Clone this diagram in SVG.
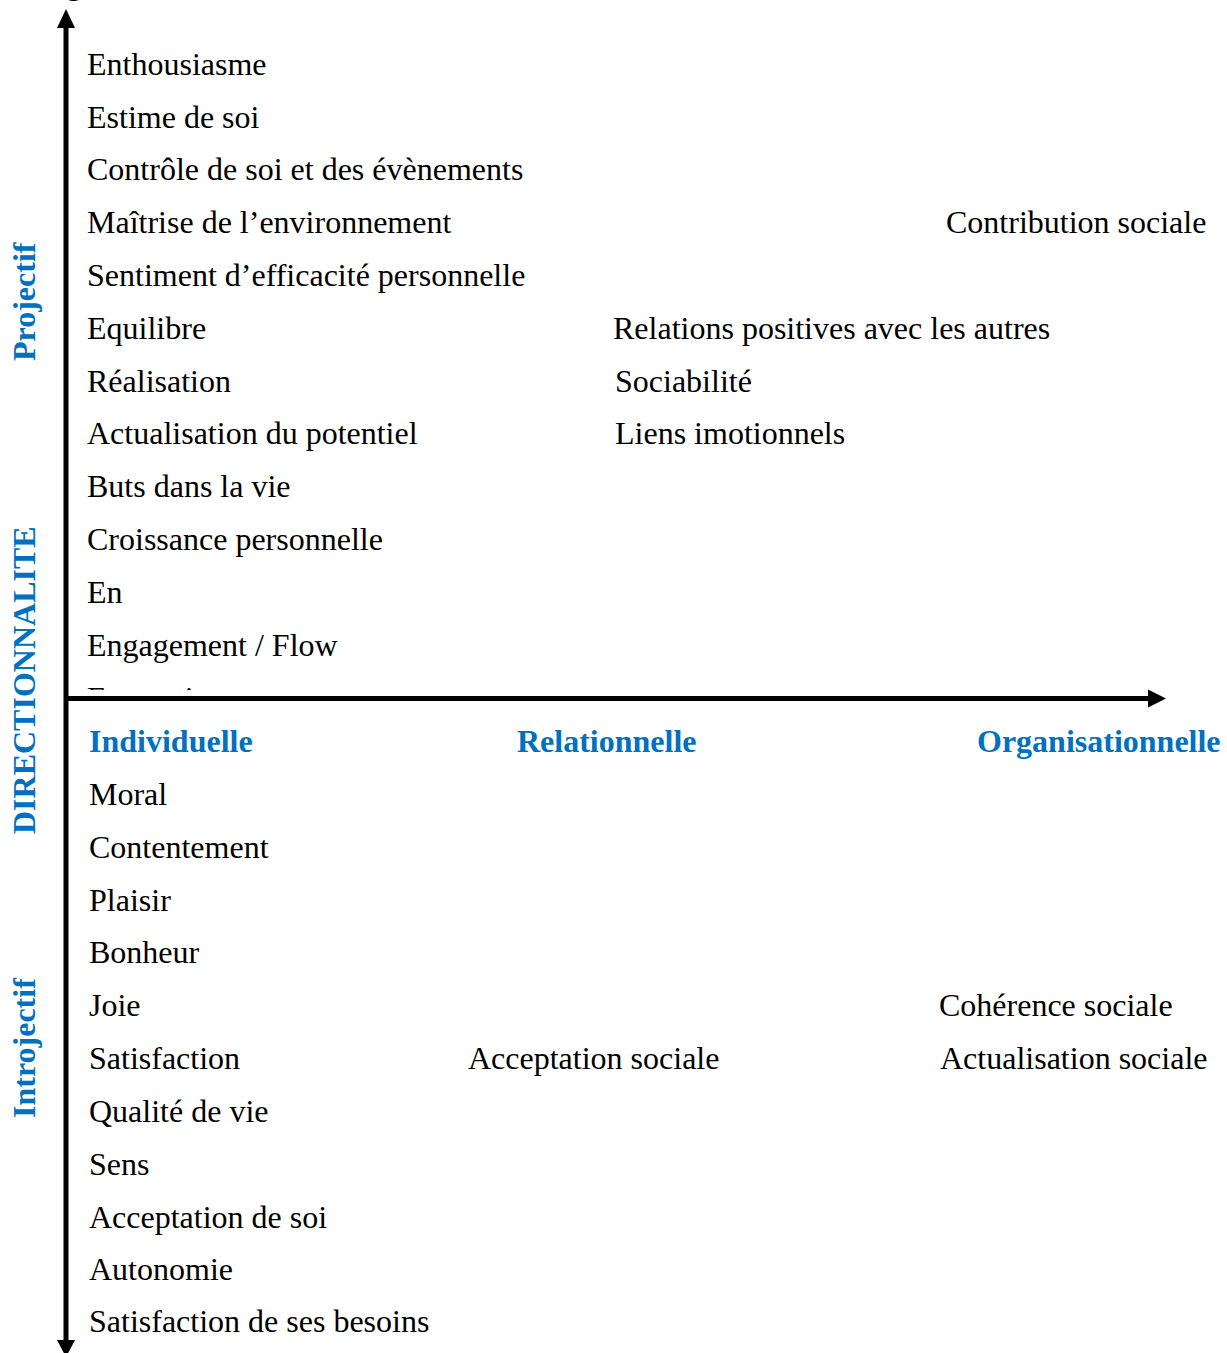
<svg xmlns="http://www.w3.org/2000/svg" width="1227" height="1353" viewBox="0 0 1227 1353">
<style>
.t{font-family:"Liberation Serif","Times New Roman",serif;font-size:32px;fill:#000}
.h{font-family:"Liberation Serif","Times New Roman",serif;font-size:32px;font-weight:bold;fill:#0070C0}
.ax{stroke:#000;stroke-width:5;fill:none}
</style>
<defs>
<clipPath id="clipEp"><rect x="80" y="680" width="300" height="10"/></clipPath>
</defs>
<rect width="1227" height="1353" fill="#fff"/>
<text class="t" x="66" y="-6" font-weight="bold">g</text>
<g id="connectors">
<line class="ax" x1="66" y1="25" x2="66" y2="1340"/>
<polygon points="66,9 57,28 75,28" fill="#000"/>
<polygon points="66,1357 57,1340 75,1340" fill="#000"/>
<line class="ax" x1="66" y1="698.5" x2="1150" y2="698.5"/>
<polygon points="1166,698.5 1148,689.5 1148,707.5" fill="#000"/>
</g>
<g id="axis-labels">
<text class="h" transform="translate(35,361) rotate(-90)">Projectif</text>
<text class="h" transform="translate(35,834) rotate(-90)">DIRECTIONNALITE</text>
<text class="h" transform="translate(35,1118) rotate(-90)">Introjectif</text>
<text class="h" x="89" y="752">Individuelle</text>
<text class="h" x="517" y="752">Relationnelle</text>
<text class="h" x="977" y="752">Organisationnelle</text>
</g>
<g id="individuelle-projectif">
<text class="t" x="87" y="75">Enthousiasme</text>
<text class="t" x="87" y="128">Estime de soi</text>
<text class="t" x="87" y="180">Contrôle de soi et des évènements</text>
<text class="t" x="87" y="233">Maîtrise de l’environnement</text>
<text class="t" x="87" y="286">Sentiment d’efficacité personnelle</text>
<text class="t" x="87" y="339">Equilibre</text>
<text class="t" x="87" y="392">Réalisation</text>
<text class="t" x="87" y="444">Actualisation du potentiel</text>
<text class="t" x="87" y="497">Buts dans la vie</text>
<text class="t" x="87" y="550">Croissance personnelle</text>
<text class="t" x="87" y="603">En</text>
<text class="t" x="87" y="656">Engagement / Flow</text>
<text class="t" x="87" y="709" clip-path="url(#clipEp)">Epanouissement</text>
</g>
<g id="relationnelle-projectif">
<text class="t" x="613" y="339">Relations positives avec les autres</text>
<text class="t" x="615" y="392">Sociabilité</text>
<text class="t" x="615" y="444">Liens imotionnels</text>
</g>
<g id="organisationnelle-projectif">
<text class="t" x="946" y="233">Contribution sociale</text>
</g>
<g id="individuelle-introjectif">
<text class="t" x="89" y="805">Moral</text>
<text class="t" x="89" y="858">Contentement</text>
<text class="t" x="89" y="911">Plaisir</text>
<text class="t" x="89" y="963">Bonheur</text>
<text class="t" x="89" y="1016">Joie</text>
<text class="t" x="89" y="1069">Satisfaction</text>
<text class="t" x="89" y="1122">Qualité de vie</text>
<text class="t" x="89" y="1175">Sens</text>
<text class="t" x="89" y="1228">Acceptation de soi</text>
<text class="t" x="89" y="1280">Autonomie</text>
<text class="t" x="89" y="1332">Satisfaction de ses besoins</text>
</g>
<g id="relationnelle-introjectif">
<text class="t" x="468" y="1069">Acceptation sociale</text>
</g>
<g id="organisationnelle-introjectif">
<text class="t" x="939" y="1016">Cohérence sociale</text>
<text class="t" x="940" y="1069">Actualisation sociale</text>
</g>
</svg>
